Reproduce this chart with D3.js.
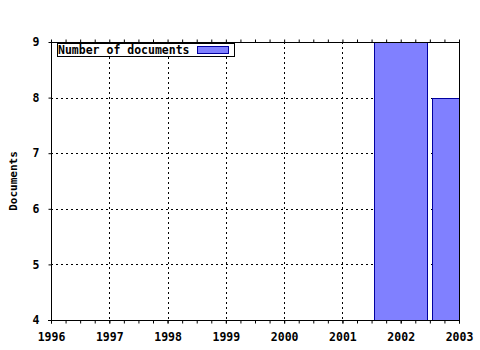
<!DOCTYPE html>
<html>
<head>
<meta charset="utf-8">
<script src="https://cdn.jsdelivr.net/npm/d3@7"></script>
<style>
body{margin:0;background:#fff;}
text{font-family:"DejaVu Sans Mono",monospace;font-weight:bold;fill:#000;}
</style>
</head>
<body>
<svg id="c" width="480" height="350"></svg>
<script>
const years = [2002, 2003];
const documents = [9, 8];
const xTicks = [1996, 1997, 1998, 1999, 2000, 2001, 2002, 2003];
const yTicks = [4, 5, 6, 7, 8, 9];
const seriesName = "Number of documents";
const yTitle = "Documents";

const svg = d3.select("#c");
const L = 51, R = 459, T = 42, B = 320;
const x = d3.scaleLinear().domain([1996, 2003]).range([L, R]);
const y = d3.scaleLinear().domain([4, 9]).range([B, T]);

svg.append("rect").attr("width",480).attr("height",350).attr("fill","#fff");

// grid
const grid = svg.append("g").attr("stroke","#000").attr("stroke-dasharray","2,3").attr("stroke-width",1);
xTicks.slice(1,-1).forEach(v=>{
  grid.append("line").attr("x1",Math.round(x(v))+0.5).attr("x2",Math.round(x(v))+0.5).attr("y1",T).attr("y2",B);
});
yTicks.slice(1,-1).forEach(v=>{
  grid.append("line").attr("y1",Math.round(y(v))+0.5).attr("y2",Math.round(y(v))+0.5).attr("x1",L).attr("x2",R);
});

// bars
svg.append("clipPath").attr("id","pc").append("rect").attr("x",L).attr("y",T).attr("width",R-L+1).attr("height",B-T);
const bw = (x(1997)-x(1996))*0.91;
svg.append("g").attr("clip-path","url(#pc)").selectAll("rect").data(years).join("rect")
  .attr("x",(d)=>Math.round(x(d)-bw/2)+0.5)
  .attr("y",(d,i)=>Math.round(y(documents[i]))+0.5)
  .attr("width",Math.round(bw))
  .attr("height",(d,i)=>B-Math.round(y(documents[i])))
  .attr("fill","#8080ff").attr("stroke","#0000a0").attr("stroke-width",1);

// axes
const minor = d3.range(1996, 2003.001, 0.25);
const bottomMinor = svg.append("g").attr("transform",`translate(0,${B+0.5})`);
bottomMinor.call(d3.axisBottom(x).tickValues(minor).tickSize(3).tickFormat(""));
bottomMinor.select(".domain").remove();
const bottomAxis = svg.append("g").attr("transform",`translate(0,${B+0.5})`)
  .call(d3.axisBottom(x).tickValues(xTicks).tickSize(3).tickPadding(9).tickFormat(d3.format("d")));
bottomAxis.select(".domain").remove();
bottomAxis.selectAll("text").attr("font-size","11.5px").attr("font-family","DejaVu Sans Mono").attr("font-weight","bold");

const topAxis = svg.append("g").attr("transform",`translate(0,${T+0.5})`);
topAxis.call(d3.axisTop(x).tickValues(minor).tickSize(3).tickFormat(""));
topAxis.select(".domain").remove();

const leftAxis = svg.append("g").attr("transform",`translate(${L+0.5},0)`)
  .call(d3.axisLeft(y).tickValues(yTicks).tickSize(3).tickPadding(9).tickFormat(d3.format("d")));
leftAxis.select(".domain").remove();
leftAxis.selectAll("text").attr("font-size","11.5px").attr("font-family","DejaVu Sans Mono").attr("font-weight","bold");

// frame
const fr = svg.append("g").attr("stroke","#000").attr("stroke-width",1);
fr.append("line").attr("x1",L-3).attr("x2",R+1).attr("y1",B+0.5).attr("y2",B+0.5);
fr.append("line").attr("x1",L).attr("x2",R+1).attr("y1",T+0.5).attr("y2",T+0.5);
fr.append("line").attr("x1",L+0.5).attr("x2",L+0.5).attr("y1",T).attr("y2",B+1);
fr.append("line").attr("x1",R+0.5).attr("x2",R+0.5).attr("y1",T).attr("y2",B+1);

// y title
svg.append("text").attr("transform",`translate(17,${(T+B)/2}) rotate(-90)`)
  .attr("text-anchor","middle").attr("font-size","11px").text(yTitle);

// legend
const lg = svg.append("g");
lg.append("rect").attr("x",57.5).attr("y",43.5).attr("width",177).attr("height",13).attr("fill","#fff").attr("stroke","#000");
lg.append("text").attr("x",58).attr("y",54).attr("font-size","11.5px").text(seriesName);
lg.append("rect").attr("x",197.5).attr("y",46.5).attr("width",31).attr("height",7).attr("fill","#8080ff").attr("stroke","#0000a0");
</script>
</body>
</html>
